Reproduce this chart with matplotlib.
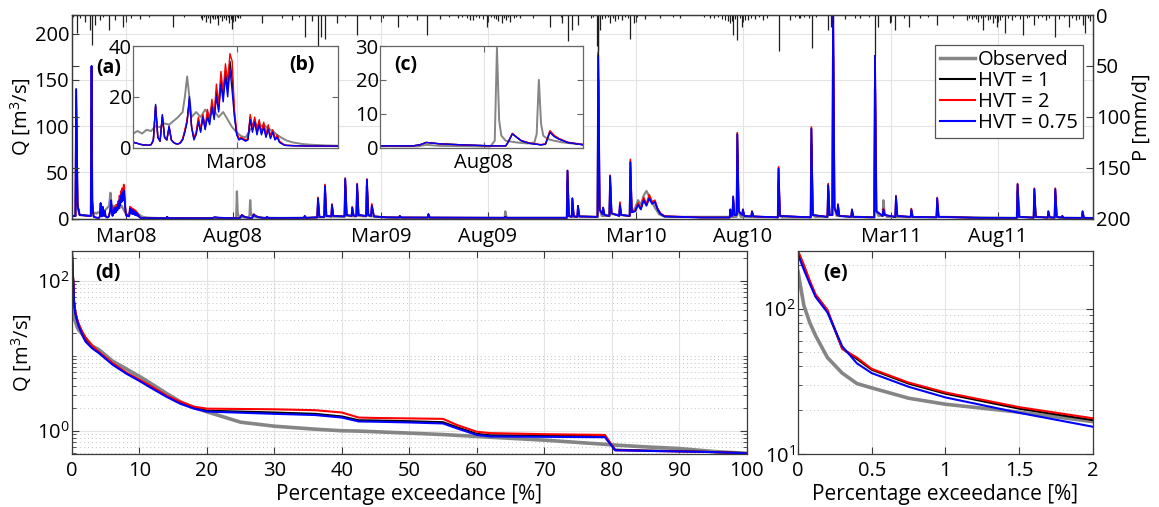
import numpy as np
import matplotlib
matplotlib.use("Agg")
import matplotlib.pyplot as plt
import matplotlib.dates as mdates
from matplotlib.lines import Line2D
from matplotlib.ticker import FixedLocator, NullFormatter

plt.rcParams['font.family'] = ['Open Sans', 'DejaVu Sans']
plt.rcParams['mathtext.fontset'] = 'custom'
plt.rcParams['mathtext.rm'] = 'Open Sans'
plt.rcParams['mathtext.bf'] = 'Open Sans:bold'
plt.rcParams['font.size'] = 14.5

# ---- daily series, day numbers counted from 15 Dec 2007 ----
start = np.datetime64('2007-12-15')
n_days = 1461

# simulated discharge [m3/s] (three HVT runs share the same days)
sim_day = ([0, 5, 6, 8, 11, 27, 28, 29, 30]
           + list(range(31, 100)) + [103, 108, 114, 122]
           + [135, 136, 138, 160, 183]
           + [198, 201, 204, 210, 220, 233, 240, 241, 243, 245, 247, 251, 256, 258, 260, 262, 264, 268, 275]
           + [278, 279, 281, 332, 333, 335, 351, 352, 354, 361, 362, 364, 371, 372, 374,
              390, 391, 393, 400, 401, 403, 407, 408, 410, 421, 422, 424, 428, 429, 432, 450,
              468, 469, 471, 509, 510, 512, 619, 620, 622,
              708, 709, 711, 715, 716, 718, 723, 724, 726, 752, 753, 755, 759, 760, 762,
              769, 770, 772, 783, 784, 786, 798, 799, 801,
              806, 810, 814, 818, 822, 826, 830, 834, 838, 842, 848, 900,
              941, 942, 943, 945, 946, 948, 951, 952, 954, 959, 960, 962, 972, 973, 975,
              1010, 1011, 1013, 1057, 1058, 1060, 1081, 1082, 1084, 1088, 1089, 1091,
              1095, 1096, 1098, 1115, 1116, 1118, 1148, 1149, 1151, 1160, 1161, 1163,
              1178, 1179, 1181, 1200, 1201, 1203, 1237, 1238, 1240, 1300,
              1352, 1353, 1355, 1376, 1377, 1379, 1396, 1397, 1399, 1406, 1407, 1409,
              1416, 1417, 1419, 1445, 1446, 1448, 1461])

q_hvt075 = ([3, 3, 140, 15, 4, 3, 165, 20, 8]
            + [2.2, 1.8, 1.6, 1.3, 1.2, 1.0, 1.0, 0.9, 1.2, 3,
               17, 4, 2.5, 13, 4, 3, 8.5, 3, 2, 1.5,
               1.4, 1.8, 3, 6, 10, 20, 8, 3, 5, 10,
               6, 12, 7, 12, 9, 16, 11, 20, 14, 25,
               18, 28, 20, 31, 22, 12, 5, 3, 3.5, 3,
               2.5, 3, 11, 6, 10, 5, 9, 5, 8, 4,
               7, 3.5, 6, 3, 4, 2, 1.5, 1.0, 0.8]
            + [0.7, 0.6, 0.6, 0.55]
            + [0.55, 2, 0.6, 0.55, 0.5]
            + [0.5, 0.8, 1.5, 1.1, 0.8, 0.5, 0.5, 1.5, 4.0, 3.0, 2.0, 1.2, 0.8, 1.0, 4.5, 3.2, 2.5, 1.5, 0.8]
            + [0.8, 2, 0.8, 0.9, 3, 0.9, 1.5, 22, 2, 2, 35, 3, 2.5, 15, 3,
               2.5, 43, 4, 3, 12, 3.5, 3, 37, 4, 3, 42, 4, 3, 14, 2.5, 1.5,
               1.3, 3, 1.3, 1.2, 5, 1.2, 1.0, 2, 1.0,
               1.0, 52, 3, 2, 22, 2.5, 2, 14, 2.5, 2, 176, 10, 5, 12, 4,
               3, 46, 6, 3, 15, 4, 3, 61, 7,
               8, 15, 10, 20, 14, 22, 16, 18, 10, 5, 2.5, 1.3,
               1.3, 10, 3, 3, 24, 4, 4, 91, 8, 4, 10, 3, 2.5, 8, 2.5,
               1.5, 54, 3, 1.5, 97, 4, 2, 36, 4, 4, 235, 12,
               4, 15, 3, 2, 10, 2, 1.5, 176, 8, 3, 10, 4,
               2, 24, 3, 2, 10, 2, 1.5, 22, 2, 0.9,
               0.9, 37, 2, 1.2, 32, 2, 1.2, 8, 1.5, 1.2, 32, 2,
               1.2, 3, 1.0, 0.9, 8, 1.0, 0.8])

q_hvt2 = ([3, 3, 138, 15, 4, 3, 163, 20, 8]
          + [2.2, 1.8, 1.6, 1.3, 1.1, 1.0, 0.9, 0.9, 1.1, 2.5,
             16, 4, 2.5, 12, 4, 3, 8, 3, 2, 1.5,
             1.4, 2, 3.5, 7, 11, 18, 8, 4, 6, 12,
             7, 13, 8, 15, 11, 19, 13, 25, 17, 30,
             22, 33, 26, 37, 34, 15, 6, 3.5, 4, 3.5,
             3, 3.5, 13, 8, 12, 7, 11, 6, 10, 5,
             9, 4.5, 7, 3.5, 5, 2.5, 1.8, 1.2, 0.9]
          + [0.75, 0.65, 0.6, 0.55]
          + [0.55, 2, 0.6, 0.55, 0.5]
          + [0.5, 0.8, 1.5, 1.1, 0.8, 0.5, 0.5, 1.6, 4.2, 3.1, 2.1, 1.3, 0.85, 1.1, 5.0, 3.6, 2.7, 1.6, 0.85]
          + [0.8, 2, 0.8, 0.9, 3, 0.9, 1.5, 23, 2, 2, 37, 3, 2.5, 16, 3,
             2.5, 44, 4, 3, 13, 3.5, 3, 38, 4, 3, 43, 4, 3, 16, 2.5, 1.5,
             1.3, 3, 1.3, 1.2, 5, 1.2, 1.0, 2, 1.0,
             1.0, 52, 3, 2, 22, 2.5, 2, 14, 2.5, 2, 178, 10, 5, 12, 4,
             3, 47, 6, 3, 18, 4, 3, 64, 7,
             9, 17, 11, 23, 16, 26, 18, 20, 11, 6, 2.8, 1.3,
             1.3, 10, 3, 3, 24, 4, 4, 93, 8, 4, 10, 3, 2.5, 8, 2.5,
             1.5, 56, 3, 1.5, 99, 4, 2, 38, 4, 4, 250, 12,
             4, 16, 3, 2, 10, 2, 1.5, 176, 8, 3, 11, 4,
             2, 25, 3, 2, 11, 2, 1.5, 23, 2, 0.9,
             0.9, 38, 2, 1.2, 33, 2, 1.2, 8, 1.5, 1.2, 33, 2,
             1.2, 3, 1.0, 0.9, 8, 1.0, 0.8])

q_hvt1 = ([3, 3, 140, 15, 4, 3, 165, 20, 8]
          + [2.2, 1.8, 1.7, 1.3, 1.1, 1.0, 0.9, 0.9, 1.1, 2.8,
             16.5, 4, 2.5, 12.5, 4, 3, 8, 3, 2, 1.5,
             1.4, 1.9, 3.2, 6.5, 10.5, 19, 8, 3.5, 5.5, 11,
             6.5, 12.5, 7.5, 13, 10, 17, 12, 22, 15, 27,
             20, 30, 23, 34, 27, 13, 5.5, 3.2, 3.8, 3.2,
             2.8, 3.2, 12, 7, 11, 6, 10, 5.5, 9, 4.5,
             8, 4, 6.5, 3.2, 4.5, 2.2, 1.6, 1.1, 0.85]
          + [0.7, 0.62, 0.6, 0.55]
          + [0.55, 2, 0.6, 0.55, 0.5]
          + [0.5, 0.8, 1.5, 1.1, 0.8, 0.5, 0.5, 1.5, 4.1, 3.0, 2.0, 1.2, 0.8, 1.0, 4.7, 3.4, 2.6, 1.5, 0.8]
          + [0.8, 2, 0.8, 0.9, 3, 0.9, 1.5, 22, 2, 2, 36, 3, 2.5, 15, 3,
             2.5, 43, 4, 3, 12, 3.5, 3, 37, 4, 3, 42, 4, 3, 15, 2.5, 1.5,
             1.3, 3, 1.3, 1.2, 5, 1.2, 1.0, 2, 1.0,
             1.0, 52, 3, 2, 22, 2.5, 2, 14, 2.5, 2, 180, 10, 5, 12, 4,
             3, 46, 6, 3, 16, 4, 3, 62, 7,
             8.5, 16, 10.5, 21, 15, 24, 17, 19, 10.5, 5.5, 2.6, 1.3,
             1.3, 10, 3, 3, 24, 4, 4, 92, 8, 4, 10, 3, 2.5, 8, 2.5,
             1.5, 55, 3, 1.5, 98, 4, 2, 37, 4, 4, 245, 12,
             4, 15, 3, 2, 10, 2, 1.5, 176, 8, 3, 10, 4,
             2, 24, 3, 2, 10, 2, 1.5, 22, 2, 0.9,
             0.9, 37, 2, 1.2, 32, 2, 1.2, 8, 1.5, 1.2, 32, 2,
             1.2, 3, 1.0, 0.9, 8, 1.0, 0.8])

# observed discharge [m3/s]
obs_day = ([0, 5, 6, 8, 11, 27, 28, 29, 30]
           + [31, 33, 35, 37, 39, 41, 43, 45, 47, 49, 51, 53, 54, 55, 56, 57, 59, 61, 63, 65,
              67, 69, 71, 73, 75, 77, 79, 81, 83, 85, 87, 89, 91, 93, 95, 97, 99, 102, 106, 110, 116, 122]
           + [135, 150, 183]
           + [200, 204, 210, 233, 235, 236, 237, 238, 240, 245, 250, 253, 254, 255, 256, 257, 259, 262, 266, 270, 275]
           + [300, 351, 352, 354, 361, 362, 364, 390, 391, 393, 407, 408, 410, 421, 422, 424, 450,
              619, 620, 622, 708, 709, 711, 752, 753, 755, 758, 769, 770, 772, 798, 799, 801,
              806, 810, 814, 818, 822, 826, 830, 834, 840, 848,
              951, 952, 954, 957, 1010, 1011, 1013, 1016, 1057, 1058, 1060, 1063,
              1081, 1082, 1084, 1088, 1089, 1091, 1094, 1140,
              1148, 1149, 1151, 1154, 1160, 1161, 1163, 1166, 1237, 1238, 1240, 1352, 1353, 1354, 1356,
              1376, 1377, 1379, 1406, 1407, 1409, 1412, 1461])
obs_q = ([3, 3, 110, 12, 4, 3, 120, 15, 7]
         + [5.5, 6.5, 5.5, 7, 6.5, 8.5, 8, 9.5, 9, 10.5, 12, 14, 20, 28, 20, 12, 14, 12, 15, 12.5,
            14.5, 12, 14, 11, 8, 6, 4.5, 4, 7, 9.5, 8, 9, 7.5, 6.5, 5, 3.8, 2.8, 2, 1.4, 1.1, 0.85, 0.7]
         + [0.65, 0.6, 0.4]
         + [0.35, 0.8, 0.5, 0.3, 2, 29.5, 8, 3.5, 2, 1.5, 1.2, 1.5, 4, 20, 7, 3.5, 2.5, 2, 1.5, 1.2, 1.0]
         + [0.8, 1.2, 15, 1.8, 1.8, 28, 2.5, 2, 35, 3, 2.5, 30, 3, 2.5, 35, 3, 1.2,
            0.9, 8, 1, 1, 40, 2.5, 2, 150, 10, 3, 3, 35, 5, 3, 45, 7,
            12, 20, 15, 25, 30, 24, 18, 12, 5, 2,
            2, 70, 6, 2, 1.5, 40, 3, 1.5, 1.5, 80, 4, 2,
            2, 30, 4, 4, 175, 12, 3, 1.5,
            1.5, 140, 8, 3, 3, 20, 5, 2, 1.5, 15, 2, 0.9, 30, 23, 2,
            1, 25, 2, 1, 25, 2, 1, 0.7])

# precipitation [mm/d]
p_day = [7, 19, 26, 28, 33, 40, 53, 62, 73, 97,
         145, 186, 192, 198, 202, 209, 215, 221, 225, 229,
         233, 240, 272, 315, 334, 344, 352, 356, 362, 379,
         408, 427, 467, 494, 508, 527, 552, 570, 574, 594,
         610, 615, 621, 627, 641, 684, 701, 710, 716, 724,
         751, 752, 753, 756, 770, 777, 787, 799, 804, 820,
         841, 870, 913, 938, 942, 946, 952, 959, 968, 978,
         989, 1011, 1028, 1042, 1059, 1082, 1086, 1089, 1106, 1128,
         1149, 1154, 1171, 1178, 1197, 1214, 1238, 1281, 1288, 1297,
         1304, 1311, 1318, 1324, 1335, 1345, 1361, 1376, 1393, 1407,
         1426, 1436, 1446, 1450, 1457]
p_mm = [18, 7, 15, 29, 10, 5, 15, 5, 12, 4,
        12, 5, 7, 8, 4, 10, 6, 5, 8, 14,
        6, 3, 8, 5, 22, 6, 32, 22, 24, 8,
        20, 4, 12, 5, 20, 4, 3, 5, 5, 12,
        6, 8, 5, 7, 3, 12, 8, 26, 15, 10,
        30, 35, 40, 15, 8, 6, 5, 24, 8, 4,
        3, 3, 3, 6, 8, 20, 25, 12, 5, 4,
        5, 35, 5, 3, 32, 15, 12, 8, 4, 3,
        40, 12, 8, 15, 12, 3, 10, 5, 4, 7,
        15, 5, 8, 12, 18, 5, 20, 10, 5, 22,
        12, 5, 10, 18, 6]
# light rain days
p_day_small = [2, 12, 45, 85, 110, 160, 184, 189, 195, 200, 205, 207, 212, 218, 223, 227, 231, 236, 238,
               300, 325, 390, 445, 480, 540, 558, 565, 578, 583, 588, 600, 604, 606, 618, 624, 632, 636,
               660, 700, 742, 746, 758, 762, 767, 774, 781, 792, 796, 808, 860,
               905, 918, 925, 930, 934, 944, 949, 956, 963, 972, 983, 995,
               1035, 1040, 1048, 1055, 1065, 1120, 1140, 1190, 1225, 1260,
               1284, 1291, 1294, 1300, 1307, 1314, 1321, 1328, 1331, 1339, 1350, 1356,
               1366, 1370, 1382, 1388, 1398, 1412, 1420, 1431, 1441, 1454]
p_mm_small = [2, 3, 2, 3, 2, 2, 3, 2, 3, 2, 4, 3, 2, 3, 2, 4, 3, 2, 3,
              3, 2, 2, 3, 2, 2, 2, 3, 2, 3, 4, 2, 3, 4, 3, 2, 3, 2,
              3, 2, 3, 2, 4, 3, 2, 3, 4, 2, 3, 2, 2,
              2, 3, 2, 4, 5, 6, 4, 3, 5, 3, 2, 3,
              2, 3, 2, 3, 2, 3, 2, 3, 2, 3,
              3, 2, 4, 3, 2, 4, 3, 5, 2, 3, 2, 4,
              3, 2, 3, 2, 3, 4, 2, 3, 4, 3]

main_tick_dates = ['2008-03-01', '2008-08-01', '2009-03-01', '2009-08-01',
                   '2010-03-01', '2010-08-01', '2011-03-01', '2011-08-01']
main_tick_labels = ['Mar08', 'Aug08', 'Mar09', 'Aug09', 'Mar10', 'Aug10', 'Mar11', 'Aug11']

# flow duration curves
fdc_pct = [0, 0.04, 0.08, 0.12, 0.2, 0.3, 0.4, 0.5, 0.75, 1,
           1.5, 2, 3, 4, 6, 8, 10, 12, 14, 16,
           18, 20, 25, 30, 36, 40, 42.5, 45, 50, 55,
           57, 60, 62, 70, 79, 80.5, 85, 90, 95, 100]
fdc_obs = [180, 105, 80, 65, 46, 36, 30.5, 28.5, 24.2, 22,
           19.4, 16.7, 13.5, 12, 8.5, 6.7, 5.3, 4.1, 3.15, 2.45,
           2.05, 1.79, 1.3, 1.15, 1.05, 1.0, 0.99, 0.97, 0.93, 0.89,
           0.87, 0.84, 0.82, 0.75, 0.66, 0.645, 0.61, 0.58, 0.53, 0.5]
fdc_hvt1 = [245, 195, 152, 122, 96, 53, 45, 38, 30.5, 26,
            20.5, 17.1, 13, 11, 7.8, 5.9, 4.7, 3.7, 2.9, 2.38,
            2.04, 1.85, 1.8, 1.75, 1.68, 1.55, 1.38, 1.37, 1.34, 1.3,
            1.12, 0.91, 0.87, 0.86, 0.85, 0.56, 0.545, 0.535, 0.52, 0.505]
fdc_hvt2 = [250, 200, 156, 125, 98, 53, 46, 38.5, 31, 26.5,
            21, 17.6, 13.5, 11.2, 8, 6.0, 4.8, 3.8, 2.95, 2.45,
            2.1, 1.97, 1.95, 1.93, 1.88, 1.75, 1.5, 1.48, 1.46, 1.44,
            1.2, 0.97, 0.93, 0.9, 0.88, 0.55, 0.54, 0.53, 0.52, 0.5]
fdc_hvt075 = [235, 185, 148, 120, 94, 55, 42, 36, 29, 24.5,
              19.2, 15.4, 12.5, 10.8, 7.6, 5.8, 4.6, 3.6, 2.84, 2.3,
              1.98, 1.8, 1.74, 1.68, 1.62, 1.5, 1.33, 1.32, 1.29, 1.25,
              1.08, 0.88, 0.84, 0.83, 0.82, 0.55, 0.54, 0.53, 0.52, 0.5]

c_obs = '#858585'
c_1 = 'black'
c_2 = '#ff0000'
c_075 = '#0000ff'
frame_c = '#3a3a3a'
grid_c = '#e3e3e3'


def to_dates(days):
    return start + np.asarray(days).astype('timedelta64[D]')


def style_frame(a):
    for s in a.spines.values():
        s.set_color(frame_c)
        s.set_linewidth(0.9)


sim_dates = to_dates(sim_day)
obs_dates = to_dates(obs_day)

fig = plt.figure(figsize=(11.59, 5.07), dpi=100)

# ---------------- hydrograph ----------------
ax = fig.add_axes([0.0621, 0.5686, 0.881, 0.4018])
ax.plot(obs_dates, obs_q, color=c_obs, lw=1.6)
ax.plot(sim_dates, q_hvt1, color=c_1, lw=1.0)
ax.plot(sim_dates, q_hvt2, color=c_2, lw=1.2)
ax.plot(sim_dates, q_hvt075, color=c_075, lw=1.3)
ax.set_xlim(to_dates([0, n_days]))
ax.set_ylim(0, 220)
ax.set_yticks([0, 50, 100, 150, 200])
ax.set_xticks(mdates.date2num(np.array(main_tick_dates, dtype='datetime64[D]')))
ax.set_xticklabels(main_tick_labels)
ax.grid(True, color=grid_c, lw=0.8)
ax.set_axisbelow(True)
ax.tick_params(direction='in', length=5, top=True, right=True, labelright=False,
               color=frame_c, pad=2)
ax.tick_params(axis='x', pad=6)
ax.set_ylabel('Q [m$^3$/s]', labelpad=1)
style_frame(ax)
ax.text(0.024, 0.74, '(a)', transform=ax.transAxes, fontweight='bold',
        ha='left', va='center', fontsize=14)

ax2 = ax.twinx()
ax2.vlines(to_dates(p_day), 0, p_mm, color='#1e1e1e', lw=0.9)
ax2.vlines(to_dates(p_day_small), 0, p_mm_small, color='#1e1e1e', lw=0.8)
ax2.set_ylim(200, 0)
ax2.set_yticks([0, 50, 100, 150, 200])
ax2.tick_params(direction='in', length=5, left=True, labelleft=False, color=frame_c, pad=2)
ax2.set_ylabel('P [mm/d]', labelpad=1)
style_frame(ax2)

handles = [Line2D([], [], color=c_obs, lw=2.5), Line2D([], [], color=c_1, lw=1.5),
           Line2D([], [], color=c_2, lw=1.5), Line2D([], [], color=c_075, lw=1.5)]
leg = ax2.legend(handles, ['Observed', 'HVT = 1', 'HVT = 2', 'HVT = 0.75'],
                 loc='upper right', bbox_to_anchor=(0.99, 0.855), fancybox=False,
                 edgecolor='#555555', framealpha=1, borderaxespad=0, handlelength=1.75,
                 handletextpad=0.15, labelspacing=0.05, borderpad=0.25, fontsize=14.5)
leg.get_frame().set_linewidth(0.9)


# ---------------- insets ----------------
def inset(rect, d0, d1, ymax, yticks, tick_date, tick_label, tag, tag_x):
    a = fig.add_axes(rect)
    a.set_facecolor('white')
    a.plot(obs_dates, obs_q, color=c_obs, lw=1.4)
    a.plot(sim_dates, q_hvt1, color=c_1, lw=1.0)
    a.plot(sim_dates, q_hvt2, color=c_2, lw=1.0)
    a.plot(sim_dates, q_hvt075, color=c_075, lw=1.0)
    a.set_xlim(to_dates([d0, d1]))
    a.set_ylim(0, ymax)
    a.set_yticks(yticks)
    a.set_xticks(mdates.date2num(np.array([tick_date], dtype='datetime64[D]')))
    a.set_xticklabels([tick_label])
    a.grid(True, axis='x', color=grid_c, lw=0.8)
    a.set_axisbelow(True)
    a.tick_params(direction='in', length=4, top=True, right=True, color='#666666', pad=1)
    a.tick_params(axis='x', pad=4)
    for s in a.spines.values():
        s.set_color('#666666')
        s.set_linewidth(0.9)
    a.text(tag_x, 0.81, tag, transform=a.transAxes, fontweight='bold',
           ha='left', va='center', fontsize=14)
    return a


inset([0.1148, 0.709, 0.1769, 0.2002], 31, 122, 40, [0, 20, 40], '2008-03-01', 'Mar08', '(b)', 0.76)
inset([0.3279, 0.709, 0.1751, 0.2002], 183, 275, 30, [0, 10, 20, 30], '2008-08-01', 'Aug08', '(c)', 0.07)


# ---------------- flow duration curves ----------------
def fdc_axes(rect, xmax, ymin, major, major_labels, minor, xticks, xticklabels, tag, tag_x):
    a = fig.add_axes(rect)
    a.plot(fdc_pct, fdc_obs, color=c_obs, lw=2.6)
    a.plot(fdc_pct, fdc_hvt1, color=c_1, lw=1.5)
    a.plot(fdc_pct, fdc_hvt2, color=c_2, lw=1.5)
    a.plot(fdc_pct, fdc_hvt075, color=c_075, lw=1.5)
    a.set_yscale('log')
    a.set_xlim(0, xmax)
    a.set_ylim(ymin, 250)
    a.yaxis.set_major_locator(FixedLocator(major))
    a.set_yticklabels(major_labels)
    a.yaxis.set_minor_locator(FixedLocator(minor))
    a.yaxis.set_minor_formatter(NullFormatter())
    a.set_xticks(xticks)
    a.set_xticklabels(xticklabels)
    a.grid(True, which='major', color=grid_c, lw=0.8)
    a.grid(True, which='minor', axis='y', color='#c4c4c4', lw=0.7, ls=(0, (1, 3)))
    a.set_axisbelow(True)
    a.tick_params(which='both', direction='in', top=True, right=True, color=frame_c)
    a.tick_params(which='major', length=5, pad=2)
    a.tick_params(axis='x', which='major', pad=5)
    a.tick_params(which='minor', length=3)
    a.set_xlabel('Percentage exceedance [%]', labelpad=2, fontsize=15)
    style_frame(a)
    a.text(tag_x, 0.89, tag, transform=a.transAxes,
           fontweight='bold', ha='left', va='center', fontsize=14)
    return a


ax_d = fdc_axes([0.0621, 0.1045, 0.5821, 0.401], 100, 0.49, [1, 100],
                ['$10^0$', '$10^2$'],
                [0.5, 0.6, 0.7, 0.8, 0.9, 2, 3, 4, 5, 6, 7, 8, 9, 10,
                 20, 30, 40, 50, 60, 70, 80, 90, 200],
                list(range(0, 101, 10)), [str(v) for v in range(0, 101, 10)], '(d)', 0.035)
ax_d.set_ylabel('Q [m$^3$/s]', labelpad=2)

ax_e = fdc_axes([0.6885, 0.1045, 0.2545, 0.401], 2, 10, [10, 100],
                ['$10^1$', '$10^2$'],
                [20, 30, 40, 50, 60, 70, 80, 90, 200],
                [0, 0.5, 1, 1.5, 2], ['0', '0.5', '1', '1.5', '2'], '(e)', 0.085)
ax_e.get_yticklabels()[0].set_verticalalignment('center_baseline')

fig.savefig('out.png', dpi=100)
